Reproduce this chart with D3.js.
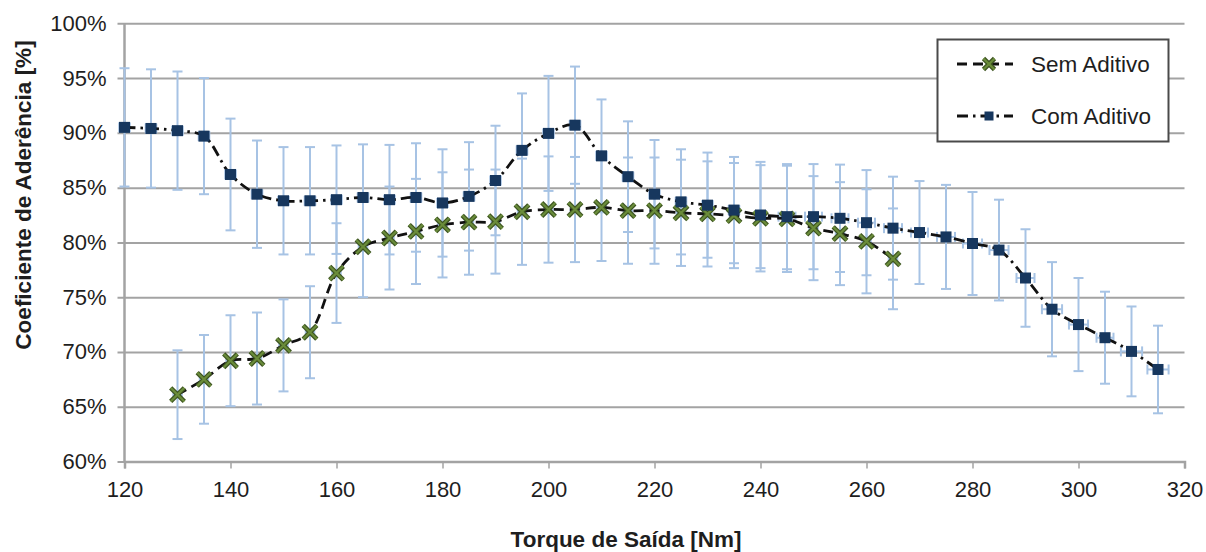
<!DOCTYPE html>
<html>
<head>
<meta charset="utf-8">
<script src="https://cdn.jsdelivr.net/npm/d3@7"></script>
<style>
  html, body { margin: 0; padding: 0; background: #ffffff; }
  svg { display: block; }
  text { font-family: "Liberation Sans", Arial, Helvetica, sans-serif; fill: #1e1e1e; }
</style>
</head>
<body>
<svg id="chart" width="1206" height="552"></svg>
<script>
// ---------- data ----------
const torqueCom = [120,125,130,135,140,145,150,155,160,165,170,175,180,185,190,195,200,205,210,215,
                   220,225,230,235,240,245,250,255,260,265,270,275,280,285,290,295,300,305,310,315];
const valueCom  = [90.5,90.4,90.2,89.7,86.2,84.4,83.8,83.8,83.9,84.1,83.9,84.1,83.6,84.2,85.65,88.4,89.95,90.7,87.9,86.0,
                   84.4,83.7,83.4,82.95,82.5,82.35,82.35,82.2,81.8,81.3,80.9,80.5,79.9,79.3,76.75,73.9,72.5,71.3,70.05,68.4];
const errYCom   = [5.4,5.4,5.4,5.3,5.1,4.9,4.9,4.9,4.95,4.85,5.0,4.95,4.9,4.95,5.0,5.2,5.25,5.35,5.15,5.05,
                   4.95,4.8,4.8,4.85,4.85,4.8,4.8,4.9,4.8,4.7,4.7,4.75,4.7,4.6,4.45,4.3,4.25,4.2,4.1,4.0];
const errXCom   = [1.0,1.0,1.0,1.0,1.0,1.0,1.0,1.0,1.0,1.0,1.0,1.0,1.0,1.0,1.0,1.0,1.0,1.0,1.0,1.0,
                   1.0,1.0,1.0,1.0,1.0,1.6,1.6,1.6,1.6,1.7,1.6,1.7,1.8,1.8,1.7,1.9,1.8,1.6,2.0,2.0];

const torqueSem = [130,135,140,145,150,155,160,165,170,175,180,185,190,195,200,205,210,215,220,225,
                   230,235,240,245,250,255,260,265];
const valueSem  = [66.1,67.5,69.2,69.4,70.6,71.8,77.2,79.6,80.4,81.0,81.6,81.85,81.9,82.8,83.0,83.0,83.2,82.9,82.9,82.7,
                   82.6,82.45,82.2,82.15,81.3,80.8,80.1,78.5];
const errYSem   = [4.05,4.05,4.15,4.2,4.2,4.2,4.55,4.6,4.7,4.8,4.8,4.8,4.75,4.85,4.85,4.8,4.9,4.85,4.85,4.85,
                   4.8,4.8,4.85,4.85,4.75,4.7,4.75,4.6];

const seriesNames = ["Sem Aditivo", "Com Aditivo"];
const xTicks = [120,140,160,180,200,220,240,260,280,300,320];
const yTicks = [60,65,70,75,80,85,90,95,100];
const xTitle = "Torque de Saída [Nm]";
const yTitle = "Coeficiente de Aderência [%]";

// ---------- layout ----------
const svg = d3.select("#chart");
const L = 124.5, R = 1184.5, T = 23.3, B = 461.5;
const x = d3.scaleLinear().domain([120, 320]).range([L, R]);
const y = d3.scaleLinear().domain([60, 100]).range([B, T]);

const gridColor = "#a3a3a3";
const errColor = "#a7c3e4";
const navy = "#17375e";

// gridlines
const gyAxis = svg.append("g").attr("transform", `translate(${L - 7},0)`)
  .call(d3.axisRight(y).tickValues(yTicks).tickSize(R - L + 7).tickFormat(""));
gyAxis.select(".domain").remove();
gyAxis.selectAll(".tick line").attr("stroke", gridColor).attr("stroke-width", 2);

// y labels
const gyLab = svg.append("g").attr("transform", `translate(${L - 7},0)`)
  .call(d3.axisLeft(y).tickValues(yTicks).tickFormat(d => d + "%").tickSize(0).tickPadding(11));
gyLab.select(".domain").remove();
gyLab.selectAll("text").attr("font-size", 22).attr("font-family", "Liberation Sans, Arial, sans-serif")
  .attr("fill", "#1a1a1a");

// y axis line
svg.append("line").attr("x1", L).attr("x2", L).attr("y1", T).attr("y2", B)
  .attr("stroke", gridColor).attr("stroke-width", 2.5);

// x axis
const gx = svg.append("g").attr("transform", `translate(0,${B})`)
  .call(d3.axisBottom(x).tickValues(xTicks).tickFormat(d3.format("d")).tickSize(7).tickPadding(13));
gx.select(".domain").attr("stroke", gridColor).attr("stroke-width", 2.5);
gx.selectAll(".tick line").attr("stroke", gridColor).attr("stroke-width", 1.5);
gx.selectAll("text").attr("font-size", 22).attr("font-family", "Liberation Sans, Arial, sans-serif")
  .attr("fill", "#1a1a1a");

// axis titles
svg.append("text").attr("x", 626).attr("y", 547).attr("text-anchor", "middle")
  .attr("font-size", 22.5).attr("font-weight", "bold").text(xTitle);
svg.append("text").attr("transform", "translate(31,195) rotate(-90)").attr("text-anchor", "middle")
  .attr("font-size", 22.5).attr("font-weight", "bold").text(yTitle);

// ---------- data objects ----------
const semData = torqueSem.map((t, i) => ({ t, v: valueSem[i], e: errYSem[i], ex: 0.8 }));
const comData = torqueCom.map((t, i) => ({ t, v: valueCom[i], e: errYCom[i], ex: errXCom[i] }));

// error bars
function drawErr(data) {
  const g = svg.append("g").attr("stroke", errColor).attr("stroke-width", 2).attr("fill", "none");
  const cap = 5;
  data.forEach(d => {
    const cx = x(d.t), cy = y(d.v), y1 = y(d.v + d.e), y2 = y(d.v - d.e);
    g.append("line").attr("x1", cx).attr("x2", cx).attr("y1", y1).attr("y2", y2);
    g.append("line").attr("x1", cx - cap).attr("x2", cx + cap).attr("y1", y1).attr("y2", y1);
    g.append("line").attr("x1", cx - cap).attr("x2", cx + cap).attr("y1", y2).attr("y2", y2);
    const x1 = x(d.t - d.ex), x2 = x(d.t + d.ex);
    g.append("line").attr("x1", x1).attr("x2", x2).attr("y1", cy).attr("y2", cy);
    g.append("line").attr("x1", x1).attr("x2", x1).attr("y1", cy - cap).attr("y2", cy + cap);
    g.append("line").attr("x1", x2).attr("x2", x2).attr("y1", cy - cap).attr("y2", cy + cap);
  });
}
drawErr(semData);
drawErr(comData);

// smoothed lines
const line = d3.line().curve(d3.curveCatmullRom.alpha(0.5)).x(d => x(d.t)).y(d => y(d.v));
svg.append("path").datum(semData).attr("d", line).attr("fill", "none")
  .attr("stroke", "#111").attr("stroke-width", 2.8).attr("stroke-dasharray", "10,6");
svg.append("path").datum(comData).attr("d", line).attr("fill", "none")
  .attr("stroke", "#111").attr("stroke-width", 2.8).attr("stroke-dasharray", "11,5,2.5,5");

// markers
function drawX(g, cx, cy, s) {
  [["#3d5421", 4.6], ["#6a8c3a", 2.2]].forEach(([c, w]) => {
    g.append("line").attr("x1", cx - s).attr("y1", cy - s).attr("x2", cx + s).attr("y2", cy + s)
      .attr("stroke", c).attr("stroke-width", w);
    g.append("line").attr("x1", cx - s).attr("y1", cy + s).attr("x2", cx + s).attr("y2", cy - s)
      .attr("stroke", c).attr("stroke-width", w);
  });
}
const gm = svg.append("g");
semData.forEach(d => drawX(gm, x(d.t), y(d.v), 6.8));
svg.append("g").selectAll("rect").data(comData).join("rect")
  .attr("x", d => x(d.t) - 5.5).attr("y", d => y(d.v) - 5.5)
  .attr("width", 11).attr("height", 11).attr("fill", navy);

// ---------- legend ----------
const lg = svg.append("g");
lg.append("rect").attr("x", 937.5).attr("y", 39.5).attr("width", 231).attr("height", 102)
  .attr("fill", "#fff").attr("stroke", "#4a4a4a").attr("stroke-width", 2);
const ly = [64, 116];
lg.append("line").attr("x1", 957).attr("x2", 1013).attr("y1", ly[0]).attr("y2", ly[0])
  .attr("stroke", "#111").attr("stroke-width", 2.8).attr("stroke-dasharray", "10,6");
drawX(lg, 989, ly[0], 5.5);
lg.append("line").attr("x1", 957).attr("x2", 1013).attr("y1", ly[1]).attr("y2", ly[1])
  .attr("stroke", "#111").attr("stroke-width", 2.8).attr("stroke-dasharray", "11,5,2.5,5");
lg.append("rect").attr("x", 989 - 4.5).attr("y", ly[1] - 4.5).attr("width", 9).attr("height", 9).attr("fill", navy);
seriesNames.forEach((n, i) => {
  lg.append("text").attr("x", 1031).attr("y", ly[i]).attr("dy", "0.35em")
    .attr("font-size", 22.5).text(n);
});
</script>
</body>
</html>
